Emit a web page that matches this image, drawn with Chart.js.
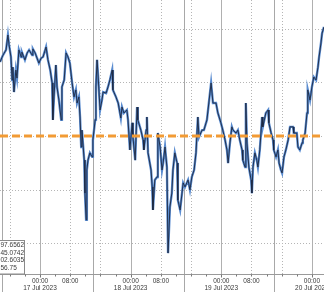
<!DOCTYPE html>
<html>
<head>
<meta charset="utf-8">
<script src="https://cdn.jsdelivr.net/npm/chart.js@4.4.0/dist/chart.umd.min.js"></script>
<style>
  html, body { margin: 0; padding: 0; background: #fff; }
  .wrap { position: relative; width: 324px; height: 292px; }
</style>
</head>
<body>
<div class="wrap"><canvas class="price-chart"></canvas></div>
<script>
// hours counted from 17 Jul 2023 00:00
const times = [
  -10.6, -9.8, -9.0, -8.5, -8.2, -7.7, -7.4, -7.2, -6.9, -6.4, -6.1, -5.6, -5.0, -4.8, -4.0, -3.4,
  -2.9, -2.1, -1.9, -1.3, -0.8, -0.3, 0.3, 0.8, 1.6, 2.1, 2.7, 3.2, 3.4, 3.7, 4.2, 4.5,
  5.0, 5.6, 5.8, 6.4, 6.9, 7.4, 7.9, 8.5, 9.0, 9.5, 9.8, 10.3, 10.6, 10.9, 11.1, 11.7,
  11.9, 12.2, 12.4, 12.7, 13.2, 13.8, 14.0, 14.6, 14.8, 15.1, 15.4, 15.9, 16.4, 16.7,
  17.5, 18.0, 18.5, 19.1, 19.3, 20.1, 20.7, 21.4, 21.7, 22.2, 23.0, 23.3, 23.8, 24.4,
  24.6, 25.2, 25.7, 25.9, 26.7, 27.3, 27.5, 28.1, 28.3, 28.6, 29.4, 29.7, 29.9, 30.4,
  31.0, 31.2, 31.8, 32.3, 32.6, 33.1, 33.6, 33.9, 34.4, 34.9, 35.2, 35.7, 36.3, 36.5,
  37.1, 37.6, 37.9, 38.4, 39.2, 39.7, 40.2, 40.8, 41.3, 41.8, 42.1, 42.9, 43.4, 44.2,
  44.7, 45.3, 45.8, 46.6, 47.1, 47.9, 48.4, 49.0, 49.5, 49.8, 50.3, 50.8, 51.1, 51.9,
  52.4, 52.9, 53.5, 53.7, 54.3, 54.5, 54.8, 55.3, 55.9, 56.1, 56.4, 56.9, 57.4, 57.7,
  58.2, 58.8, 59.0, 59.8, 60.4, 60.6, 61.2, 61.7, 61.9, 62.5, 63.0, 63.3, 63.8, 64.1,
  64.6, 65.1, 65.7, 66.2, 67.0, 67.2, 68.0, 68.3, 68.8, 69.4, 69.6, 70.2, 70.7, 70.9,
  71.5, 72.0, 72.5, 73.1, 73.6, 73.9, 74.4, 74.7, 75.2
];
const prices = [
  127.6, 130.2, 132.1, 137.7, 134.0, 129.5, 120.9, 125.7, 116.4, 124.6, 121.6, 132.1, 129.5, 131.3, 128.4, 131.0,
  132.1, 130.2, 132.5, 131.0, 129.1, 127.2, 129.1, 129.5, 133.2, 128.4, 124.6, 119.8, 106.0, 114.6, 126.5, 118.3,
  113.4, 106.0, 118.3, 120.9, 131.0, 129.5, 127.2, 119.8, 114.6, 117.2, 112.3, 114.6, 107.1, 95.9, 102.2, 91.0,
  78.7, 68.7, 87.3, 91.0, 93.7, 92.2, 98.5, 106.0, 118.3, 128.4, 122.0, 109.7, 113.4, 116.4,
  116.0, 118.3, 120.9, 124.6, 117.2, 114.6, 112.3, 106.7, 110.8, 108.6, 109.7, 106.0, 94.8, 104.9,
  99.6, 91.0, 110.8, 106.0, 102.2, 98.5, 94.8, 102.2, 107.1, 93.7, 87.3, 81.0, 72.4, 83.6,
  84.7, 101.1, 95.9, 87.3, 89.9, 95.9, 88.4, 56.3, 73.5, 78.7, 87.3, 93.7, 89.9, 76.1,
  72.4, 78.7, 82.5, 81.0, 83.6, 79.9, 84.7, 87.3, 93.7, 107.1, 99.6, 102.2, 102.2, 106.0,
  112.3, 119.8, 112.3, 112.3, 108.6, 104.9, 102.2, 98.5, 94.8, 89.9, 97.4, 103.4, 102.2, 101.1,
  102.2, 98.5, 94.8, 91.0, 88.4, 112.3, 97.4, 88.4, 83.6, 78.7, 88.4, 93.7, 91.0, 88.4,
  94.8, 107.1, 103.4, 108.6, 109.7, 104.9, 101.1, 98.5, 94.8, 92.2, 94.8, 89.9, 87.3, 86.2,
  92.2, 94.8, 98.5, 103.4, 103.4, 101.1, 101.1, 95.9, 94.8, 97.4, 98.5, 101.1, 108.6, 117.2,
  113.4, 118.3, 122.0, 120.9, 125.7, 129.5, 134.7, 138.4, 140.7
];
const refLevel = 100;
const gridValues = [60, 80, 100, 120, 140];
const dayStarts = [0, 24, 48, 72];
const dayLabels = ["17 Jul 2023", "18 Jul 2023", "19 Jul 2023", "20 Jul 2023"];
const sessionBreaks = [-10, 14, 38, 62];
const legendValues = ["97.6562", "45.0742", "02.6035", "56.75"];

const xMin = -10.6, xMax = 75.2;
const yMin = 48.5, yMax = 150.75;
const labelFont = '6.5px "Liberation Sans", "DejaVu Sans", sans-serif';

document.addEventListener("DOMContentLoaded", () => {
  let ctx = document.querySelector(".price-chart").getContext("2d");

  const points = times.map((t, i) => ({ x: t, y: prices[i] }));

  const backdrop = {
    id: "backdrop",
    beforeDatasetsDraw(chart) {
      const c = chart.ctx;
      const area = chart.chartArea;
      const xs = chart.scales.x;
      const ys = chart.scales.y;
      c.save();
      c.lineWidth = 1;
      // horizontal dotted grid
      c.strokeStyle = "#b5b5b5";
      c.setLineDash([1, 2]);
      gridValues.forEach((v) => {
        const y = Math.round(ys.getPixelForValue(v)) + 0.5;
        c.beginPath();
        c.moveTo(area.left, y);
        c.lineTo(area.right, y);
        c.stroke();
      });
      // vertical dotted lines every 8h
      for (let h = -8; h <= xMax; h += 8) {
        if (h % 24 === 0) continue;
        const x = Math.round(xs.getPixelForValue(h)) + 0.5;
        c.beginPath();
        c.moveTo(x, area.top);
        c.lineTo(x, area.bottom);
        c.stroke();
      }
      c.setLineDash([]);
      // midnight lines
      c.strokeStyle = "#b0b0b0";
      dayStarts.forEach((h) => {
        const x = Math.round(xs.getPixelForValue(h)) + 0.5;
        c.beginPath();
        c.moveTo(x, area.top);
        c.lineTo(x, area.bottom);
        c.stroke();
      });
      // session separators running into the label band
      c.strokeStyle = "#a8a8a8";
      sessionBreaks.forEach((h) => {
        const x = Math.round(xs.getPixelForValue(h)) + 0.5;
        c.beginPath();
        c.moveTo(x, area.top);
        c.lineTo(x, chart.height);
        c.stroke();
      });
      c.restore();
    },
    afterDraw(chart) {
      const c = chart.ctx;
      const area = chart.chartArea;
      const xs = chart.scales.x;
      c.save();
      // axis line
      const yb = Math.round(area.bottom) + 0.5;
      c.strokeStyle = "#9a9a9a";
      c.lineWidth = 1;
      c.beginPath();
      c.moveTo(0, yb);
      c.lineTo(chart.width, yb);
      c.stroke();
      // minor ticks every 4h
      c.strokeStyle = "#777";
      for (let h = -8; h <= xMax; h += 4) {
        const x = Math.round(xs.getPixelForValue(h)) + 0.5;
        c.beginPath();
        c.moveTo(x, yb);
        c.lineTo(x, yb + (h % 24 === 0 ? 3 : 2));
        c.stroke();
      }
      // labels
      c.fillStyle = "#3a3a3a";
      c.font = labelFont;
      c.textAlign = "center";
      c.textBaseline = "middle";
      dayStarts.forEach((h, i) => {
        const x = xs.getPixelForValue(h);
        c.fillText("00:00", x, yb + 7);
        c.fillText(dayLabels[i], x, yb + 14);
        c.fillText("08:00", xs.getPixelForValue(h + 8), yb + 7);
      });
      // clipped data box, bottom left
      c.fillStyle = "#fff";
      c.strokeStyle = "#8a8a8a";
      c.fillRect(-2, 240, 26.5, 34);
      c.strokeRect(-2, 240.5, 26.5, 33.5);
      c.fillStyle = "#3a3a3a";
      c.textAlign = "left";
      legendValues.forEach((t, i) => {
        c.fillText(t, 0.5, 245.5 + i * 7.6);
      });
      c.restore();
    },
  };

  const config = {
    type: "line",
    data: {
      datasets: [
        {
          data: [{ x: xMin, y: refLevel }, { x: xMax, y: refLevel }],
          borderColor: "#f29b35",
          borderWidth: 3,
          borderDash: [8, 4],
          pointRadius: 0,
        },
        {
          data: points,
          borderColor: "#1c2740",
          borderWidth: 0.9,
          pointRadius: 0,
          tension: 0,
        },
        {
          data: points,
          borderColor: "#5a8cd0",
          borderWidth: 2.4,
          pointRadius: 0,
          tension: 0,
        },
      ],
    },
    options: {
      responsive: true,
      maintainAspectRatio: false,
      animation: false,
      layout: { padding: { top: 0, left: 0, right: 0, bottom: 18 } },
      plugins: { legend: { display: false }, tooltip: { enabled: false } },
      scales: {
        x: {
          type: "linear",
          min: xMin,
          max: xMax,
          ticks: { display: false },
          grid: { display: false, drawTicks: false },
          border: { display: false },
        },
        y: {
          min: yMin,
          max: yMax,
          ticks: { display: false },
          grid: { display: false, drawTicks: false },
          border: { display: false },
        },
      },
    },
    plugins: [backdrop],
  };

  const priceChart = new Chart(ctx, config);
});
</script>
</body>
</html>
